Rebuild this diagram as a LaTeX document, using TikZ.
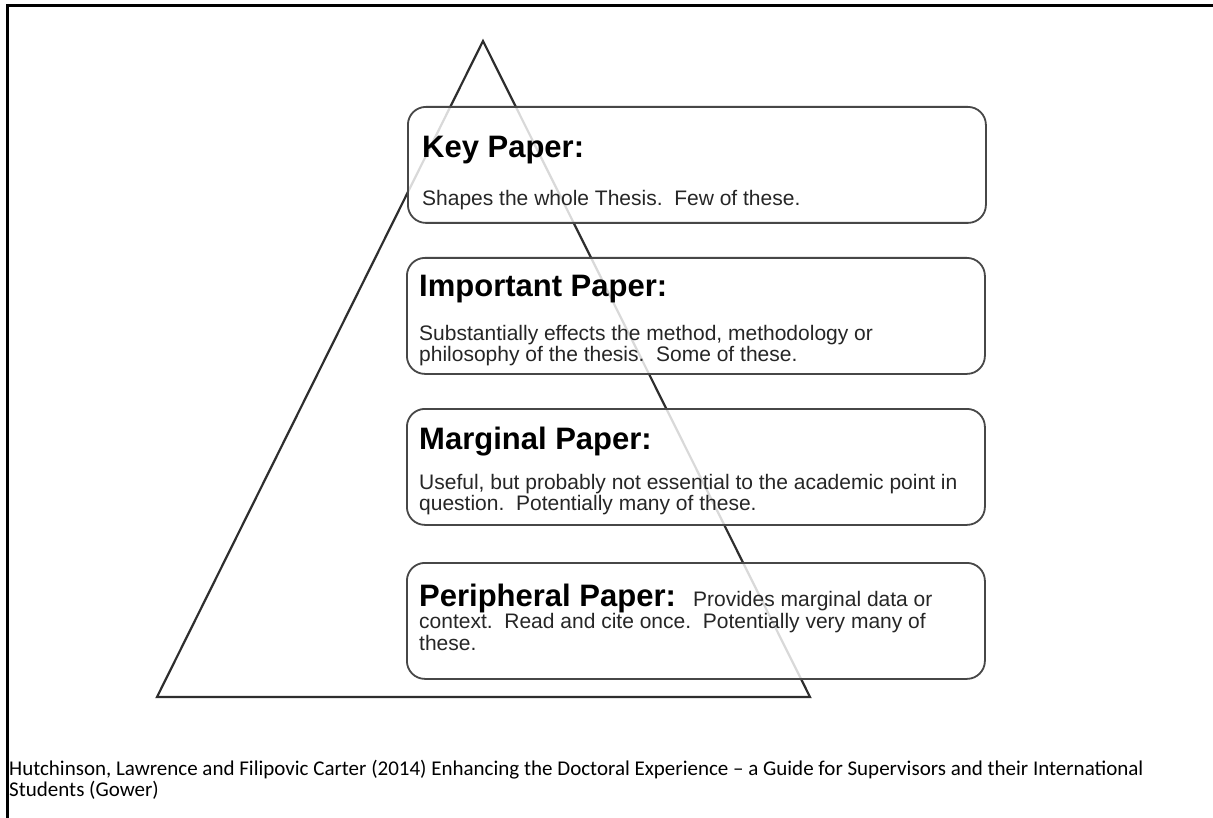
\documentclass[tikz,border=0pt]{standalone}
\usepackage{fontspec}
\setmainfont{Liberation Sans}
\newfontfamily\capfont{Carlito}
\begin{document}
\begin{tikzpicture}[x=1pt,y=-1pt,
  tri/.style={draw=black!82,line width=2.2pt,line join=miter},
  paperbox/.style={draw=black!72,line width=1.8pt,rounded corners=18pt,fill=white,fill opacity=0.82,text opacity=1,minimum width=578pt,minimum height=116pt,inner sep=0pt},
  head/.style={anchor=base west,inner sep=0pt,font=\fontsize{31}{34}\selectfont\bfseries},
  body/.style={anchor=base west,inner sep=0pt,font=\fontsize{21}{22}\selectfont,text=black!85},
  caption/.style={anchor=base west,inner sep=0pt,font=\capfont\fontsize{21}{21}\selectfont},
  frame/.style={draw=black,line width=3pt}]
\useasboundingbox (0,0) rectangle (1213,818);
\fill[white] (0,0) rectangle (1213,818);
% frame
\coordinate (fb) at (7,818);
\coordinate (fc) at (7,6);
\coordinate (fr) at (1213,6);
\draw[frame] (fb) -- (fc) -- (fr);
% triangle
\coordinate (apex) at (483,41);
\coordinate (br) at (810,697);
\coordinate (bl) at (157,697);
\draw[tri] (apex) -- (br) -- (bl) -- cycle;
% boxes
\node[paperbox,anchor=north west] (b1) at (407,106) {};
\node[paperbox,anchor=north west] (b2) at (406,257) {};
\node[paperbox,anchor=north west] (b3) at (406,408) {};
\node[paperbox,anchor=north west] (b4) at (406,562) {};
% texts
\node[head] (h1) at (422,158) {Key Paper:};
\node[body] (t1) at (422,206) {Shapes the whole Thesis.\ \ Few of these.};
\node[head] (h2) at (419,297) {Important Paper:};
\node[body] (t2a) at (419,341) {Substantially effects the method, methodology or};
\node[body] (t2b) at (419,362) {philosophy of the thesis.\ \ Some of these.};
\node[head] (h3) at (419,449) {Marginal Paper:};
\node[body] (t3a) at (419,489) {Useful, but probably not essential to the academic point in};
\node[body] (t3b) at (419,510) {question.\ \ Potentially many of these.};
\node[head] (h4) at (419,606) {Peripheral Paper:\ \ {\mdseries\fontsize{21}{22}\selectfont\color{black!85}Provides marginal data or}};
\node[body] (t4b) at (419,628) {context.\ \ Read and cite once.\ \ Potentially very many of};
\node[body] (t4c) at (419,650) {these.};
% caption
\node[caption] (c1) at (9,775) {Hutchinson, Lawrence and Filipovic Carter (2014) Enhancing the Doctoral Experience – a Guide for Supervisors and their International};
\node[caption] (c2) at (9,796) {Students (Gower)};
\end{tikzpicture}
\end{document}
